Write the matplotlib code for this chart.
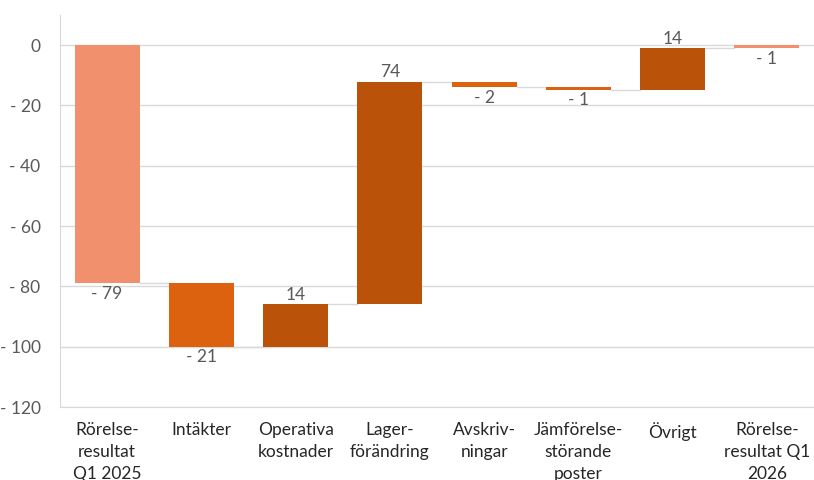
import matplotlib.pyplot as plt

# --- data ---
categories = ["Rörelse-\nresultat\nQ1 2025", "Intäkter", "Operativa\nkostnader",
              "Lager-\nförändring", "Avskriv-\nningar", "Jämförelse-\nstörande\nposter",
              "Övrigt", "Rörelse-\nresultat Q1\n2026"]
start_value = -79
changes = [-21, 14, 73.7, -1.7, -0.9, 13.8]

plt.rcParams["font.family"] = ["Lato", "DejaVu Sans"]

c_total = "#F0906C"
c_neg = "#DD6210"
c_pos = "#BA520A"

# build bottoms/heights for the waterfall
bottoms, heights, colors, values = [0], [start_value], [c_total], [start_value]
level = start_value
for ch in changes:
    bottoms.append(level)
    heights.append(ch)
    colors.append(c_pos if ch > 0 else c_neg)
    values.append(ch)
    level += ch
bottoms.append(0)
heights.append(level)
colors.append(c_total)
values.append(level)

fig = plt.figure(figsize=(8.14, 4.8), dpi=100)
ax = fig.add_axes([0.0737, 0.152, 0.9263, 0.817])

x = list(range(len(categories)))
w = 0.69
ax.bar(x, heights, bottom=bottoms, width=w, color=colors, zorder=3)

# connector lines between bars
for i in range(len(x) - 1):
    y_end = bottoms[i] + heights[i]
    ax.plot([x[i] + w / 2, x[i + 1] - w / 2], [y_end, y_end],
            color="#d9d9d9", lw=1, zorder=2)


def fmt(v):
    r = round(v)
    return f"- {abs(r)}" if r < 0 else f"{r}"


for i, v in enumerate(values):
    top = max(bottoms[i], bottoms[i] + heights[i])
    low = min(bottoms[i], bottoms[i] + heights[i])
    if v > 0:
        ax.text(x[i], top + 0.6, fmt(v), ha="center", va="bottom",
                fontsize=12.5, color="#595959")
    else:
        ax.text(x[i], low - 0.8, fmt(v), ha="center", va="top",
                fontsize=12.5, color="#595959")

ax.set_xlim(-0.5, len(x) - 0.5)
ax.set_ylim(-120, 10)
ax.set_yticks(range(-120, 1, 20))
ax.set_yticklabels([fmt(t) for t in range(-120, 1, 20)])
ax.set_xticks(x)
ax.set_xticklabels(categories, fontsize=12.5, color="#262626", linespacing=1.45, va="top")
ax.tick_params(axis="y", length=0, pad=14, labelsize=12.5, labelcolor="#595959")
ax.tick_params(axis="x", length=0, pad=11)
ax.grid(axis="y", color="#d9d9d9", lw=1, zorder=0)
for s in ["top", "right"]:
    ax.spines[s].set_visible(False)
ax.spines["left"].set_color("#d9d9d9")
ax.spines["bottom"].set_color("#d9d9d9")

fig.savefig("out.png", dpi=100)
